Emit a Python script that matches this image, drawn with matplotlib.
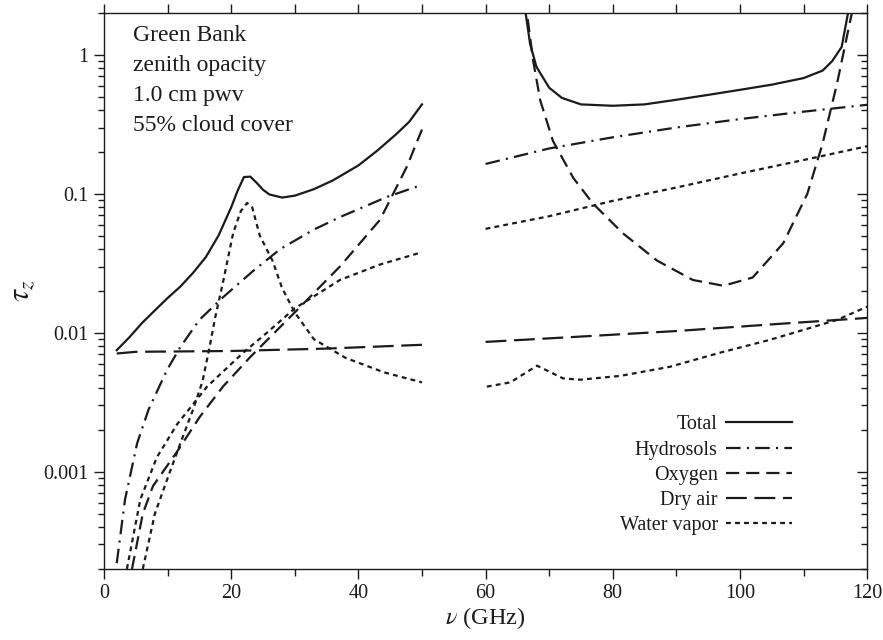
"""Green Bank zenith opacity by component, 1.0 cm pwv, 55% cloud cover."""

import matplotlib
matplotlib.use("Agg")
import matplotlib.pyplot as plt
from matplotlib.ticker import FixedLocator, FuncFormatter, LogLocator, NullFormatter

plt.rcParams["font.family"] = ["Liberation Serif", "DejaVu Serif"]
plt.rcParams["mathtext.fontset"] = "stix"
plt.rcParams["lines.scale_dashes"] = False

INK = "#1b1b1b"

# --- low band (2-50 GHz) ---
total_lo_x = [2, 4, 6, 8, 10, 12, 14, 16, 18, 20, 21, 22, 23, 24, 25, 26, 28, 30, 33, 36, 40, 43, 46, 48, 50]
total_lo_y = [0.0075, 0.0093, 0.0118, 0.0145, 0.0178, 0.0215, 0.027, 0.035, 0.05, 0.08, 0.105, 0.132,
              0.133, 0.12, 0.107, 0.099, 0.094, 0.097, 0.108, 0.125, 0.16, 0.205, 0.27, 0.33, 0.44]

hydro_lo_x = [2, 3.3, 5.2, 7, 9.9, 12, 15, 18.7, 23.5, 27.7, 32.9, 37.1, 44.5, 50]
hydro_lo_y = [0.00022, 0.00063, 0.0016, 0.0028, 0.0054, 0.0079, 0.0124, 0.018, 0.028, 0.04, 0.055,
              0.068, 0.095, 0.116]

oxy_lo_x = [4.4, 6.1, 7.7, 11.5, 15.1, 18.7, 23, 30.5, 37.1, 43.4, 47.6, 50]
oxy_lo_y = [0.0002, 0.0005, 0.00079, 0.0014, 0.0025, 0.0041, 0.0067, 0.0148, 0.03, 0.065, 0.156, 0.29]

dry_lo_x = [2, 5, 20, 35, 50]
dry_lo_y = [0.0071, 0.0073, 0.0074, 0.0077, 0.0082]

# water vapour: line near 22 GHz and the smooth part
wv_line_x = [6.1, 8, 10, 12, 14, 15.5, 16.5, 17.5, 18.7, 20.3, 21.5, 22.5, 23.3, 24.5, 26.5, 28, 30,
             33, 38, 44, 50]
wv_line_y = [0.0002, 0.0005, 0.0009, 0.0016, 0.0028, 0.0045, 0.0075, 0.013, 0.023, 0.052, 0.075, 0.086,
             0.08, 0.05, 0.033, 0.021, 0.014, 0.009, 0.0066, 0.0052, 0.0044]

wv_cont_lo_x = [3.6, 5.7, 8.3, 11.5, 16.2, 21.9, 25.6, 30, 37.1, 43.4, 50]
wv_cont_lo_y = [0.0002, 0.00063, 0.00127, 0.0022, 0.0041, 0.0072, 0.01, 0.015, 0.024, 0.031, 0.038]

# --- high band (60-120 GHz) ---
total_hi_x = [65.5, 66.3, 67, 68, 70, 72, 75, 80, 85, 90, 95, 100, 105, 110, 113, 114.5, 116, 117, 117.8]
total_hi_y = [5.0, 2.0, 1.2, 0.82, 0.58, 0.49, 0.44, 0.43, 0.44, 0.475, 0.515, 0.56, 0.61, 0.68, 0.77,
              0.9, 1.14, 2.0, 4.0]

hydro_hi_x = [60, 70, 80, 90, 100, 110, 120]
hydro_hi_y = [0.164, 0.212, 0.255, 0.3, 0.345, 0.39, 0.437]

oxy_hi_x = [65.5, 66.5, 67.5, 68.6, 70.6, 73.8, 76.9, 81.6, 87, 92.6, 97.4, 102, 106.8, 110.6, 113,
            115.3, 117.6, 118.5]
oxy_hi_y = [5.0, 2.0, 0.9, 0.47, 0.24, 0.13, 0.085, 0.052, 0.033, 0.024, 0.0218, 0.025, 0.044, 0.1,
            0.23, 0.63, 2.0, 4.0]

dry_hi_x = [60, 75, 90, 105, 120]
dry_hi_y = [0.0086, 0.0094, 0.0103, 0.0115, 0.0128]

wv_hi_x = [60, 70, 80, 90, 100, 110, 120]
wv_hi_y = [0.056, 0.069, 0.089, 0.111, 0.14, 0.175, 0.22]

wv_wing_x = [60.2, 63.9, 68.1, 72.2, 74.9, 81.2, 89, 96.9, 104.7, 110, 115.3, 120]
wv_wing_y = [0.0041, 0.0044, 0.0058, 0.0047, 0.0046, 0.0049, 0.0057, 0.0072, 0.0089, 0.0105, 0.0124,
             0.0154]

notes = ["Green Bank", "zenith opacity", "1.0 cm pwv", "55% cloud cover"]

styles = {
    "Total": dict(linestyle="-"),
    "Hydrosols": dict(dashes=(10.5, 4.5, 1.5, 4.5)),
    "Oxygen": dict(dashes=(9.5, 5)),
    "Dry air": dict(dashes=(15, 5.5)),
    "Water vapor": dict(dashes=(3.5, 3)),
}

fig = plt.figure(figsize=(8.83, 6.4), dpi=100)
ax = fig.add_axes([0.1178, 0.111, 0.8642, 0.8687])

series = [
    ("Total", total_lo_x, total_lo_y, total_hi_x, total_hi_y),
    ("Hydrosols", hydro_lo_x, hydro_lo_y, hydro_hi_x, hydro_hi_y),
    ("Oxygen", oxy_lo_x, oxy_lo_y, oxy_hi_x, oxy_hi_y),
    ("Dry air", dry_lo_x, dry_lo_y, dry_hi_x, dry_hi_y),
    ("Water vapor", wv_cont_lo_x, wv_cont_lo_y, wv_hi_x, wv_hi_y),
]
for name, xl, yl, xh, yh in series:
    ax.plot(xl, yl, color=INK, lw=1.6, label=name, **styles[name])
    ax.plot(xh, yh, color=INK, lw=1.6, **styles[name])
ax.plot(wv_line_x, wv_line_y, color=INK, lw=1.6, **styles["Water vapor"])
ax.plot(wv_wing_x, wv_wing_y, color=INK, lw=1.6, **styles["Water vapor"])

ax.set_yscale("log")
ax.set_xlim(0, 120)
ax.set_ylim(2e-4, 2.0)

ax.xaxis.set_major_locator(FixedLocator([0, 20, 40, 60, 80, 100, 120]))
ax.xaxis.set_minor_locator(FixedLocator([10, 30, 50, 70, 90, 110]))
ax.yaxis.set_major_locator(FixedLocator([0.001, 0.01, 0.1, 1]))
ax.yaxis.set_minor_locator(LogLocator(base=10, subs=range(2, 10)))
ax.yaxis.set_major_formatter(FuncFormatter(lambda v, _: f"{v:g}"))
ax.yaxis.set_minor_formatter(NullFormatter())

ax.tick_params(which="both", top=False, right=False, direction="out", colors=INK,
               labelsize=14.5, width=1.0)
ax.tick_params(axis="x", which="major", length=7, pad=4)
ax.tick_params(axis="x", which="minor", length=5)
ax.tick_params(axis="y", which="major", length=7, pad=4)
ax.tick_params(axis="y", which="minor", length=4)
for s in ax.spines.values():
    s.set_color(INK)
    s.set_linewidth(1.0)

top = ax.secondary_xaxis("top")
top.xaxis.set_major_locator(FixedLocator(range(0, 121, 10)))
top.tick_params(direction="out", length=6.5, width=1.0, labeltop=False, colors=INK)
top.spines["top"].set_visible(False)

right = ax.secondary_yaxis("right")
right.yaxis.set_major_locator(FixedLocator([0.001, 0.01, 0.1, 1]))
right.yaxis.set_minor_locator(LogLocator(base=10, subs=range(2, 10)))
right.yaxis.set_minor_formatter(NullFormatter())
right.tick_params(which="major", direction="in", length=7, width=1.0, labelright=False, colors=INK)
right.tick_params(which="minor", direction="in", length=4.5, width=1.0, colors=INK)
right.spines["right"].set_visible(False)

ax.set_xlabel(r"$\nu$ (GHz)", fontsize=17.5, color=INK, labelpad=1)
ax.set_ylabel(r"$\tau_z$", fontsize=22, color=INK, labelpad=5)

for i, line in enumerate(notes):
    ax.text(0.038, 0.979 - i * 0.054, line, transform=ax.transAxes, fontsize=17,
            color=INK, va="top", ha="left")

leg = ax.legend(loc="lower right", bbox_to_anchor=(0.902, 0.061), frameon=False, markerfirst=False,
                fontsize=14.5, handlelength=3.3, handletextpad=0.4, labelspacing=0.3,
                borderpad=0, borderaxespad=0)
for t in leg.get_texts():
    t.set_color(INK)

fig.savefig("out.png", dpi=100)
